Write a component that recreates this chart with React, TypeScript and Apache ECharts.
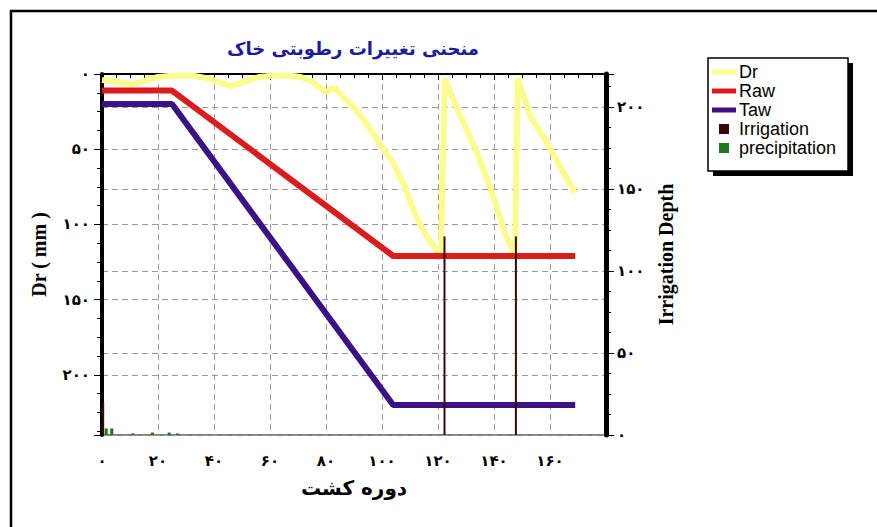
import React, { useEffect, useRef } from "react";
import * as echarts from "echarts";

const drData: [number, number][] = [
  [0, 4], [5, 5], [11, 7], [16, 4], [20, 2], [26, 1], [32, 1], [38, 3], [46, 8], [51, 5],
  [56, 2], [62, 1], [67, 1], [71, 2], [75, 5], [80, 12], [83, 9], [86, 15], [90, 22],
  [93, 29], [99, 46], [104, 59], [108, 74], [112, 94], [116, 108], [121, 121], [122.5, 3],
  [127, 24], [133, 48], [139, 77], [144, 106], [147.5, 121], [148.5, 3], [153, 28],
  [159, 46], [165, 66], [169, 79],
];
const rawData: [number, number][] = [[0, 11], [25, 11], [104, 121], [169, 121]];
const tawData: [number, number][] = [[0, 20], [25, 20], [104, 220], [169, 220]];
const irrigationData: [number, number][] = [[0.6, 20], [122.5, 121], [148, 121]];
const precipitationData: [number, number][] = [[1.5, 4], [3.5, 4], [11, 1], [18, 1.5], [24, 1.5], [27, 1]];

const titleText = "منحنی تغییرات رطوبتی خاک";
const xName = "دوره کشت";
const leftName = "Dr ( mm )";
const rightName = "Irrigation Depth";
const legendNames = ["Dr", "Raw", "Taw", "Irrigation", "precipitation"];

const faDigits = "۰۱۲۳۴۵۶۷۸۹";
const toFa = (v: number) => String(v).replace(/\d/g, (d) => faDigits[+d]);

export default function App() {
  const ref = useRef<HTMLDivElement>(null);
  useEffect(() => {
    if (!ref.current) return;
    const chart = echarts.init(ref.current, undefined, { renderer: "svg" });
    const tickLabel = { fontFamily: "DejaVu Sans", fontWeight: "bold" as const, fontSize: 15, color: "#000" };
    const lineIcon = "path://M0,0h24v5h-24z";
    const squareIcon = "path://M0,0h10v10h-10z";
    chart.setOption({
      animation: false,
      backgroundColor: "#fff",
      grid: { left: 102, right: 271, top: 74, bottom: 92, show: true, borderColor: "#000", borderWidth: 1, backgroundColor: "transparent" },
      graphic: [
        { type: "line", shape: { x1: 10, y1: 11, x2: 877, y2: 11 }, style: { stroke: "#000", lineWidth: 2.5 }, z: 1 },
        { type: "line", shape: { x1: 11, y1: 10, x2: 11, y2: 527 }, style: { stroke: "#000", lineWidth: 2.5 }, z: 1 },
        {
          type: "text", x: 353, y: 48, z: 1,
          style: { text: titleText, fill: "#1c1c96", font: "bold 18px 'DejaVu Sans'", textAlign: "center", textVerticalAlign: "middle" },
        },
        { type: "rect", shape: { x: 713, y: 63, width: 140, height: 113 }, style: { fill: "#000" }, z: 1 },
        { type: "rect", shape: { x: 708, y: 58, width: 140, height: 113 }, style: { fill: "#fff", stroke: "#000", lineWidth: 1.5 }, z: 2 },
      ],
      legend: {
        orient: "vertical",
        left: 712,
        top: 63,
        padding: 0,
        itemWidth: 24,
        itemHeight: 10,
        itemGap: 1,
        z: 10,
        textStyle: { fontFamily: "Liberation Sans", fontSize: 18, color: "#000", padding: [0, 0, 0, -2] },
        data: [
          { name: legendNames[0], icon: lineIcon },
          { name: legendNames[1], icon: lineIcon },
          { name: legendNames[2], icon: lineIcon },
          { name: legendNames[3], icon: squareIcon },
          { name: legendNames[4], icon: squareIcon },
        ],
      },
      xAxis: {
        type: "value",
        min: 0,
        max: 180,
        interval: 20,
        name: xName,
        nameLocation: "middle",
        nameGap: 43,
        nameTextStyle: { fontFamily: "DejaVu Sans", fontWeight: "bold", fontSize: 20, color: "#000" },
        axisLine: { show: true, lineStyle: { color: "#000", width: 2 } },
        axisTick: { show: true, length: 6, lineStyle: { color: "#000" } },
        minorTick: { show: true, splitNumber: 4, length: 4, lineStyle: { color: "#000" } },
        axisLabel: { ...tickLabel, margin: 18, formatter: (v: number) => (v === 180 ? "" : toFa(v)) },
        splitLine: { show: true, lineStyle: { color: "#9a9a9a", type: [6, 4], width: 1 } },
      },
      yAxis: [
        {
          type: "value",
          position: "left",
          inverse: true,
          min: 0,
          max: 240,
          interval: 50,
          name: leftName,
          nameLocation: "middle",
          nameGap: 53,
          nameRotate: 90,
          nameTextStyle: { fontFamily: "Liberation Serif", fontWeight: "bold", fontSize: 20, color: "#000" },
          axisLine: { show: true, lineStyle: { color: "#000", width: 4 } },
          axisTick: { show: true, length: 8, lineStyle: { color: "#000" } },
          minorTick: { show: true, splitNumber: 4, length: 5, lineStyle: { color: "#000" } },
          axisLabel: { ...tickLabel, margin: 12, formatter: (v: number) => (v % 50 === 0 ? toFa(v) : "") },
          splitLine: { show: true, lineStyle: { color: "#9a9a9a", type: [6, 4], width: 1 } },
        },
        {
          type: "value",
          position: "right",
          min: 0,
          max: 220,
          interval: 50,
          name: rightName,
          nameLocation: "middle",
          nameGap: 50,
          nameRotate: 90,
          nameTextStyle: { fontFamily: "Liberation Serif", fontWeight: "bold", fontSize: 20, color: "#000" },
          axisLine: { show: true, lineStyle: { color: "#000", width: 5 } },
          axisTick: { show: true, length: 8, lineStyle: { color: "#000" } },
          minorTick: { show: true, splitNumber: 4, length: 5, lineStyle: { color: "#000" } },
          axisLabel: { ...tickLabel, margin: 11, formatter: (v: number) => (v % 50 === 0 ? toFa(v) : "") },
          splitLine: { show: true, lineStyle: { color: "#9a9a9a", type: [6, 4], width: 1 } },
        },
      ],
      series: [
        {
          name: legendNames[0], type: "line", data: drData, yAxisIndex: 0, showSymbol: false,
          color: "#fcfc8e", lineStyle: { color: "#fcfc8e", width: 6 }, z: 2,
        },
        {
          name: legendNames[1], type: "line", data: rawData, yAxisIndex: 0, showSymbol: false,
          color: "#dc1c1c", lineStyle: { color: "#dc1c1c", width: 6 }, z: 3,
        },
        {
          name: legendNames[2], type: "line", data: tawData, yAxisIndex: 0, showSymbol: false,
          color: "#3c1087", lineStyle: { color: "#3c1087", width: 6 }, z: 3,
        },
        {
          name: legendNames[3], type: "bar", data: irrigationData, yAxisIndex: 1, barWidth: 2,
          color: "#3a0606", itemStyle: { color: "#3a0606" }, z: 5, barGap: "-100%",
        },
        {
          name: legendNames[4], type: "bar", data: precipitationData, yAxisIndex: 1, barWidth: 3,
          color: "#1c7c1c", itemStyle: { color: "#1c7c1c" }, z: 5,
        },
      ],
    });
    return () => chart.dispose();
  }, []);
  return <div ref={ref} style={{ position: "fixed", left: 0, top: 0, width: 877, height: 527 }} />;
}
